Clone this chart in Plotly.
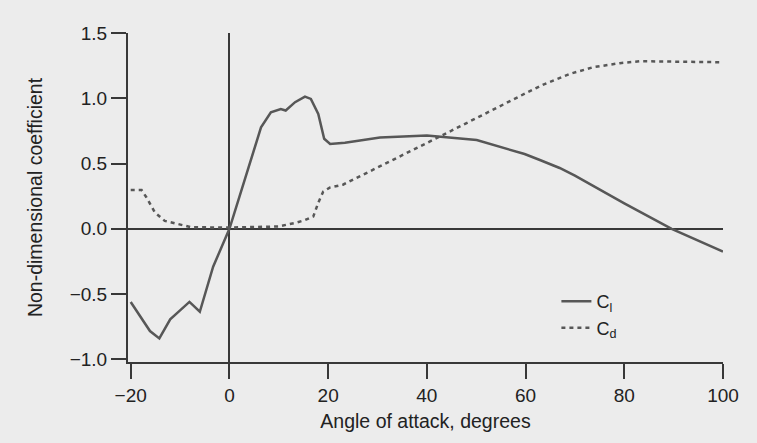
import plotly.graph_objects as go

# Lift coefficient vs angle of attack (degrees)
cl_alpha = [-20, -16.1, -14.2, -12.0, -10.0, -8.1, -6.0, -3.3, 0, 6.4, 8.4, 10.4, 11.4,
            13.3, 15.3, 16.5, 18.0, 19.2, 20.4, 23.4, 30.5, 40.0, 50.1, 59.8, 62.9,
            66.9, 70.0, 80.0, 89.6, 100.0]
cl_vals = [-0.56, -0.783, -0.839, -0.693, -0.625, -0.56, -0.635, -0.29, 0.0, 0.777, 0.893,
           0.918, 0.906, 0.97, 1.013, 0.995, 0.88, 0.69, 0.65, 0.66, 0.70, 0.714, 0.68,
           0.573, 0.527, 0.466, 0.407, 0.195, 0.0, -0.174]

# Drag coefficient vs angle of attack (degrees)
cd_alpha = [-20, -17.8, -16.8, -15.1, -13.1, -9.7, -7.7, 0, 9.9, 13.6, 15.3, 17.0, 18.0,
            19.0, 20.4, 23.0, 30.1, 43.0, 60.4, 63.6, 69.0, 73.7, 79.1, 83.1, 100.0]
cd_vals = [0.297, 0.297, 0.24, 0.125, 0.061, 0.03, 0.012, 0.01, 0.018, 0.048, 0.067, 0.095,
           0.2, 0.285, 0.317, 0.338, 0.47, 0.714, 1.046, 1.105, 1.187, 1.238, 1.269, 1.284,
           1.276]

x_ticks = [-20, 0, 20, 40, 60, 80, 100]
y_ticks = [-1.0, -0.5, 0.0, 0.5, 1.0, 1.5]

FONT = "Liberation Sans, Arial, Helvetica, sans-serif"
INK = "#383838"
TEXT = "#222222"
CURVE = "#575757"
BG = "#ececec"

fig = go.Figure()
fig.add_trace(go.Scatter(
    x=cl_alpha, y=cl_vals, mode="lines", name="C<sub>l</sub>",
    line=dict(color=CURVE, width=2.5),
))
fig.add_trace(go.Scatter(
    x=cd_alpha, y=cd_vals, mode="lines", name="C<sub>d</sub>",
    line=dict(color=CURVE, width=2.5, dash="4px,4px"),
))

axis_common = dict(
    showgrid=False, showline=True, linewidth=2, linecolor=INK,
    ticks="outside", ticklen=15, tickwidth=2, tickcolor=INK,
    zeroline=True, zerolinewidth=2, zerolinecolor=INK,
    tickfont=dict(family=FONT, size=19, color=TEXT),
)

fig.update_xaxes(
    range=[-20.55, 100], tickvals=x_ticks,
    ticktext=[f"{v:d}".replace("-", "\u2212") for v in x_ticks],
    title=dict(text="Angle of attack, degrees", standoff=10,
               font=dict(family=FONT, size=19.5, color=TEXT)),
    **axis_common,
)
fig.update_yaxes(
    range=[-1.02, 1.5], tickvals=y_ticks,
    ticktext=[f"{v:.1f}".replace("-", "\u2212") for v in y_ticks],
    title=dict(text="Non-dimensional coefficient", standoff=22,
               font=dict(family=FONT, size=19.5, color=TEXT)),
    **axis_common,
)

fig.update_layout(
    width=757, height=443,
    margin=dict(l=128, r=34, t=33, b=81),
    paper_bgcolor=BG, plot_bgcolor=BG,
    showlegend=True,
    legend=dict(
        x=0.72, y=0.24, xanchor="left", yanchor="top",
        bgcolor="rgba(0,0,0,0)", itemwidth=30, tracegroupgap=0,
        font=dict(family=FONT, size=18, color=TEXT),
    ),
)

fig.write_html("out.html")
